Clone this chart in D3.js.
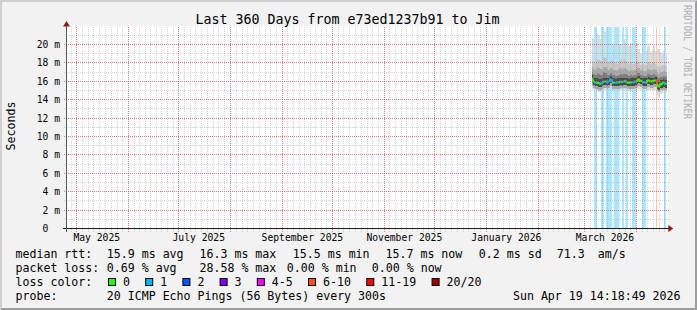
<!DOCTYPE html>
<html><head><meta charset="utf-8">
<script src="https://cdn.jsdelivr.net/npm/d3@7"></script>
<style>
html,body{margin:0;padding:0;background:#f2f2f2;}
svg{display:block;}
text{font-family:"DejaVu Sans Mono",monospace;white-space:pre;}
</style></head><body>
<svg id="chart" width="697" height="310"></svg>
<script>
// ---------------- DATA ----------------
const titleText = "Last 360 Days from e73ed1237b91 to Jim";
const timeStart = "2025-04-24T14:18:49Z";
const timeEnd   = "2026-04-19T14:18:49Z";
const dataEnd   = "2026-04-19T00:00:00Z";
const monthLabels = ["May 2025","July 2025","September 2025","November 2025","January 2026","March 2026"];
const monthLabelDates = ["2025-05-01","2025-07-01","2025-09-01","2025-11-01","2026-01-01","2026-03-01"];
const yTickValues = [0,2,4,6,8,10,12,14,16,18,20];
const yTickLabels = ["0  ","2 m","4 m","6 m","8 m","10 m","12 m","14 m","16 m","18 m","20 m"];

const days = ["2026-03-05","2026-03-06","2026-03-07","2026-03-08","2026-03-09","2026-03-10","2026-03-11","2026-03-12","2026-03-13","2026-03-14",
"2026-03-15","2026-03-16","2026-03-17","2026-03-18","2026-03-19","2026-03-20","2026-03-21","2026-03-22","2026-03-23","2026-03-24",
"2026-03-25","2026-03-26","2026-03-27","2026-03-28","2026-03-29","2026-03-30","2026-03-31","2026-04-01","2026-04-02","2026-04-03",
"2026-04-04","2026-04-05","2026-04-06","2026-04-07","2026-04-08","2026-04-09","2026-04-10","2026-04-11","2026-04-12","2026-04-13",
"2026-04-14","2026-04-15","2026-04-16","2026-04-17","2026-04-18"];
// median rtt (ms)
const median = [16.26,15.97,15.83,15.83,15.80,15.72,15.83,15.97,15.97,15.90,15.97,16.19,15.90,15.83,15.83,15.86,15.90,15.94,15.90,15.97,
16.01,15.90,15.83,15.86,15.90,15.90,15.97,16.04,16.19,16.04,15.97,15.90,15.86,16.04,16.08,16.01,15.97,16.04,16.08,15.61,
15.47,15.68,15.72,15.83,15.72];
// smoke envelope (ms), from the outermost ping ranks inwards
const smokeMax = [20.8,20.6,20.5,21.2,21.0,20.6,20.4,21.6,21.4,20.5,20.3,20.2,20.1,19.9,19.8,19.8,20.0,20.1,19.8,20.6,
20.3,19.9,19.8,20.2,19.7,19.6,19.5,20.2,19.5,19.0,19.5,19.4,19.3,19.6,19.8,19.2,19.5,19.8,19.3,19.4,
19.5,19.2,19.0,19.3,19.0];
const smokeQ9 = [18.2,18.0,18.1,18.4,18.3,18.2,18.0,18.6,18.5,18.1,18.0,18.2,18.3,18.1,18.0,17.9,18.2,18.3,18.0,18.4,
18.2,18.0,17.9,18.1,17.9,17.9,18.0,18.3,18.1,17.8,17.9,17.9,17.8,18.0,18.1,17.9,18.0,18.1,17.9,17.7,
17.6,17.7,17.8,17.8,17.7];
const smokeQ8 = [17.5,17.3,17.2,17.5,17.4,17.3,17.2,17.6,17.5,17.3,17.2,17.4,17.3,17.2,17.2,17.1,17.3,17.4,17.2,17.4,
17.3,17.2,17.1,17.2,17.1,17.2,17.2,17.4,17.4,17.2,17.2,17.1,17.1,17.3,17.3,17.2,17.2,17.3,17.2,17.0,
16.8,17.0,17.0,17.1,17.0];
const smokeQ7 = [17.0,16.8,16.7,16.9,16.8,16.7,16.7,17.0,16.9,16.7,16.7,16.9,16.7,16.7,16.6,16.6,16.7,16.8,16.7,16.8,
16.8,16.7,16.6,16.7,16.6,16.7,16.7,16.9,16.9,16.7,16.7,16.6,16.6,16.8,16.8,16.7,16.7,16.8,16.7,16.5,
16.3,16.5,16.5,16.6,16.5];
const smokeQ6 = [16.7,16.4,16.3,16.3,16.2,16.2,16.3,16.4,16.4,16.3,16.4,16.6,16.3,16.3,16.2,16.3,16.3,16.4,16.3,16.4,
16.4,16.3,16.2,16.3,16.3,16.3,16.4,16.5,16.6,16.4,16.4,16.3,16.3,16.4,16.5,16.4,16.4,16.4,16.5,16.1,
15.9,16.1,16.1,16.2,16.1];
const smokeQ4 = [15.8,15.6,15.5,15.5,15.4,15.4,15.5,15.6,15.6,15.5,15.6,15.8,15.5,15.5,15.5,15.5,15.5,15.6,15.5,15.6,
15.6,15.5,15.5,15.5,15.5,15.5,15.6,15.7,15.8,15.7,15.6,15.5,15.5,15.7,15.7,15.6,15.6,15.7,15.7,15.2,
15.1,15.3,15.3,15.4,15.3];
const smokeQ3 = [15.5,15.3,15.2,15.2,15.1,15.1,15.2,15.3,15.3,15.2,15.3,15.5,15.2,15.2,15.2,15.2,15.2,15.3,15.2,15.3,
15.3,15.2,15.2,15.2,15.2,15.2,15.3,15.4,15.5,15.4,15.3,15.2,15.2,15.4,15.4,15.3,15.3,15.4,15.4,14.9,
14.8,15.0,15.0,15.1,15.0];
const smokeMin = [15.2,15.0,14.9,14.9,14.8,14.8,14.9,15.0,15.0,14.9,15.0,15.2,14.9,14.9,14.9,14.9,14.9,15.0,14.9,15.0,
15.0,14.9,14.9,14.9,14.9,14.9,15.0,15.1,15.2,15.1,15.0,14.9,14.9,15.1,15.1,15.0,15.0,15.1,15.1,14.5,
14.3,14.6,14.7,14.8,14.7];

// packet loss periods
const lossStart = ["2026-03-06T13:00Z","2026-03-10T14:00Z","2026-03-13T18:00Z","2026-03-18T08:00Z","2026-03-23T03:00Z",
                   "2026-03-25T12:00Z","2026-03-29T03:00Z","2026-04-04T02:00Z","2026-04-12T07:00Z","2026-04-17T10:00Z"];
const lossEnd   = ["2026-03-08T05:00Z","2026-03-12T09:00Z","2026-03-17T04:00Z","2026-03-21T04:00Z","2026-03-24T08:00Z",
                   "2026-03-26T22:00Z","2026-03-31T08:00Z","2026-04-06T07:00Z","2026-04-13T02:00Z","2026-04-18T15:00Z"];
const lossLevel = ["1","1","1","1","1","1","1","1","6-10","1"];

const lossBins   = ["0","1","2","3","4-5","6-10","11-19","20/20"];
const lossColors = ["#26ff00","#00b8ff","#0059ff","#7e00ff","#ff00ff","#ff5500","#ff0000","#a10000"];

const rttValues = [15.9,16.3,15.5,15.7,0.2,71.3];
const rttUnits  = ["ms avg","ms max","ms min","ms now","ms sd","am/s"];
const plValues  = [0.69,28.58,0.00,0.00];
const plUnits   = ["% avg","% max","% min","% now"];
const probeText = "20 ICMP Echo Pings (56 Bytes) every 300s";
const stampText = "Sun Apr 19 14:18:49 2026";

// ---------------- LAYOUT ----------------
const W = 697, H = 310;
const X0 = 66, X1 = 667.8, YB = 228.5, YT = 26.5;
const svg = d3.select("#chart");
const x = d3.scaleUtc().domain([new Date(timeStart), new Date(timeEnd)]).range([X0, X1]);
const y = d3.scaleLinear().domain([0, 21.95]).range([YB, YT]);
const px = v => Math.floor(v) + 0.5;
const colorOf = bin => lossColors[lossBins.indexOf(bin)];
const pale = (c, t) => d3.interpolateRgb("#ffffff", c)(t);

// background + 3D border
svg.append("rect").attr("width", W).attr("height", H).attr("fill", "#f2f2f2");
svg.append("path").attr("d", "M0,0H697L695,2H2V308L0,310Z").attr("fill", "#cfcfcf");
svg.append("path").attr("d", "M697,0V310H0L2,308H695V2Z").attr("fill", "#9e9e9e");
// canvas
svg.append("rect").attr("x", X0).attr("y", YT).attr("width", X1 - X0).attr("height", YB - YT).attr("fill", "#ffffff");

const plot = svg.append("g");
const dayDates = days.map(d => new Date(d + "T00:00:00Z"));
const stepDates = dayDates.concat([new Date(dataEnd)]);
const rows = stepDates.map((d, i) => ({d, i: Math.min(i, days.length - 1)}));
const band = (lo, hi, color) => {
  plot.append("path")
    .attr("d", d3.area().curve(d3.curveStepAfter)
      .x(r => Math.round(x(r.d))).y0(r => y(lo[r.i])).y1(r => y(hi[r.i]))(rows))
    .attr("fill", color).attr("shape-rendering", "crispEdges");
};
// outermost smoke band (vanishes where pings were lost)
band(smokeMin, smokeMax, "#dcdcdc");
// loss background bars
plot.selectAll("rect.loss").data(lossStart).enter().append("rect").attr("class", "loss")
  .attr("x", d => Math.round(x(new Date(d))))
  .attr("width", (d, i) => Math.max(1, Math.round(x(new Date(lossEnd[i]))) - Math.round(x(new Date(d)))))
  .attr("y", YT).attr("height", YB - YT)
  .attr("fill", (d, i) => pale(colorOf(lossLevel[i]), 0.34)).attr("shape-rendering", "crispEdges");
// inner smoke bands
band(smokeQ3, smokeQ9, "#c6c6c6");
band(smokeQ3, smokeQ8, "#a8a8a8");
band(smokeQ4, smokeQ7, "#7e7e7e");
band(smokeQ4, smokeQ6, "#484848");

// median line coloured by loss
const lossIv = lossStart.map((s, i) => [new Date(s), new Date(lossEnd[i]), lossLevel[i]]);
let bps = stepDates.map(d => +d);
lossIv.forEach(l => { bps.push(+l[0]); bps.push(+l[1]); });
bps = Array.from(new Set(bps)).filter(t => t >= +stepDates[0] && t <= +stepDates[stepDates.length - 1]).sort((a, b) => a - b);
let prevY = null;
for (let k = 0; k < bps.length - 1; k++) {
  const a = bps[k], b = bps[k + 1], mid = (a + b) / 2;
  const di = d3.bisectRight(dayDates.map(Number), mid) - 1;
  const li = lossIv.find(l => mid >= +l[0] && mid < +l[1]);
  const col = colorOf(li ? li[2] : "0");
  const yy = y(median[di]);
  const xa = Math.round(x(new Date(a))), xb = Math.round(x(new Date(b)));
  let dstr = `M${xa},${yy}H${xb}`;
  if (prevY !== null) dstr = `M${xa},${prevY}V${yy}H${xb}`;
  plot.append("path").attr("d", dstr).attr("fill", "none").attr("stroke", col).attr("stroke-width", 2);
  prevY = yy;
}

// ---------------- GRID ----------------
const grid = svg.append("g").attr("shape-rendering", "crispEdges").attr("stroke-dasharray", "1,1");
const minorCol = "rgba(150,150,150,0.42)", majorCol = "rgba(222,79,79,0.75)";
// horizontal
d3.range(1, 22).forEach(v => {
  const major = v % 2 === 0;
  grid.append("line").attr("x1", X0 - 2).attr("x2", X1 + 2).attr("y1", px(y(v))).attr("y2", px(y(v)))
    .attr("stroke", major ? majorCol : minorCol);
});
// vertical: months and ninths of months
const months = d3.utcMonth.range(d3.utcMonth.floor(x.domain()[0]), x.domain()[1]);
months.forEach(m => {
  const next = d3.utcMonth.offset(m, 1);
  for (let k = 0; k < 9; k++) {
    const t = new Date(+m + (next - m) * k / 9);
    if (t < x.domain()[0] || t > x.domain()[1]) continue;
    grid.append("line").attr("x1", px(x(t))).attr("x2", px(x(t))).attr("y1", YB + 3).attr("y2", YT)
      .attr("stroke", k === 0 ? majorCol : minorCol);
  }
});

// ---------------- AXES ----------------
const axisCol = "#1f1f1f", arrowCol = "#8b1a1a";
svg.append("line").attr("x1", X0 - 3.5).attr("x2", X1 + 1).attr("y1", YB).attr("y2", YB)
  .attr("stroke", axisCol).attr("shape-rendering", "crispEdges");
svg.append("line").attr("x1", 66.5).attr("x2", 66.5).attr("y1", YB + 3).attr("y2", YT - 2)
  .attr("stroke", "#555").attr("shape-rendering", "crispEdges");
svg.append("path").attr("d", `M${X1 + 0.5},${YB - 3.5}L${X1 + 5.5},${YB}L${X1 + 0.5},${YB + 3.5}Z`).attr("fill", arrowCol);
svg.append("path").attr("d", `M63,${YT}L66.5,${YT - 5.5}L70,${YT}Z`).attr("fill", arrowCol);

// y tick labels
svg.selectAll("text.yl").data(yTickValues).enter().append("text").attr("class", "yl")
  .attr("x", 60).attr("y", v => y(v) + 3.6).attr("text-anchor", "end")
  .attr("font-size", "9.7px").attr("fill", "#000").attr("xml:space", "preserve")
  .text((v, i) => yTickLabels[i]);
// x month labels
svg.selectAll("text.xl").data(monthLabels).enter().append("text").attr("class", "xl")
  .attr("x", (d, i) => x(d3.utcDay.offset(new Date(monthLabelDates[i] + "T00:00:00Z"), 12.5)))
  .attr("y", 241.2).attr("text-anchor", "middle").attr("font-size", "9.7px").attr("fill", "#000")
  .text(d => d);

// title, axis title, side text
svg.append("text").attr("x", 347.5).attr("y", 23.6).attr("text-anchor", "middle")
  .attr("font-size", "13.3px").attr("fill", "#000").text(titleText);
svg.append("text").attr("transform", "translate(14.5,126) rotate(-90)").attr("text-anchor", "middle")
  .attr("font-size", "11.6px").attr("fill", "#000").text("Seconds");
svg.append("text").attr("transform", "translate(683.5,5) rotate(90) scale(1,1.3)")
  .attr("font-size", "8.6px").attr("fill", "#b0b0b0").text("RRDTOOL / TOBI OETIKER");

// ---------------- LEGEND ----------------
const LF = "11.6px";
const rowY = [258.3, 272.0, 285.9, 299.7];
const leg = svg.append("g").attr("font-size", LF).attr("fill", "#000");
const t = (xx, yy, s, anchor) => leg.append("text").attr("x", xx).attr("y", yy)
  .attr("text-anchor", anchor || "start").attr("xml:space", "preserve").text(s);
t(15.5, rowY[0], "median rtt:");
const rttX = [106.8, 199.5, 292.8, 385.5, 478.8, 556.8];
rttValues.forEach((v, i) => {
  if (i < 5) t(rttX[i], rowY[0], v.toFixed(1) + " " + rttUnits[i]);
  else { t(rttX[i], rowY[0], v.toFixed(1)); t(597.8, rowY[0], rttUnits[i]); }
});
t(15.5, rowY[1], "packet loss:");
const plX = [106.8, 199.5, 286.8, 371.8];
plValues.forEach((v, i) => t(plX[i], rowY[1], v.toFixed(2) + " " + plUnits[i]));
t(15.5, rowY[2], "loss color:");
let lx = 108.5;
lossBins.forEach((b, i) => {
  leg.append("rect").attr("x", lx).attr("y", 278.5).attr("width", 7).attr("height", 7)
    .attr("fill", lossColors[i]).attr("stroke", "#000").attr("stroke-width", 1);
  t(lx + 14.5, rowY[2], b);
  lx += 37.2 + (b.length - 1) * 7.02;
});
t(15.5, rowY[3], "probe:");
t(106.8, rowY[3], probeText);
t(680.5, rowY[3], stampText, "end");
</script>
</body></html>
